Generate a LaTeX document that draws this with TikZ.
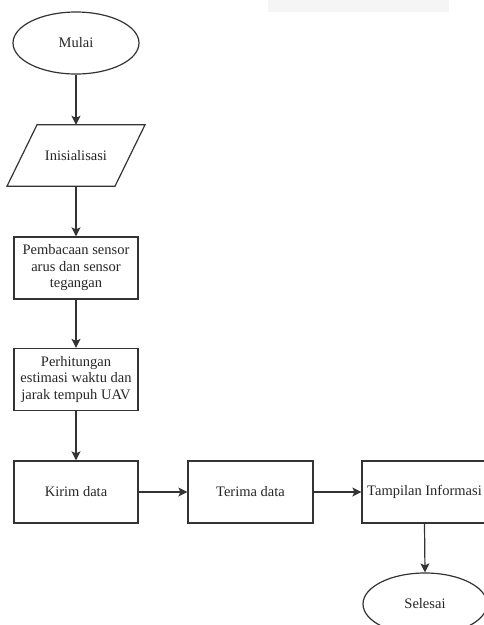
\documentclass[tikz,border=0pt]{standalone}
\usepackage{fontspec}
\setmainfont{Liberation Serif}
\usetikzlibrary{shapes.geometric,arrows.meta,calc}
\begin{document}
\begin{tikzpicture}[x=1pt,y=-1pt,
  every node/.style={font=\fontsize{14.5}{16.5}\selectfont, text=black!85},
  proc/.style={draw=black!80, line width=1.2pt, minimum width=124pt, minimum height=62pt, inner sep=0pt, align=center},
  term/.style={ellipse, draw=black!80, line width=1.2pt, minimum width=126pt, minimum height=62pt, inner sep=0pt},
  conn/.style={line width=1.2pt, draw=black!80, -{Stealth[length=9pt,width=9pt,inset=2pt]}}]
\useasboundingbox (0,0) rectangle (484,625);
\clip (0,0) rectangle (484,625);
\fill[black!4] (268,0) rectangle (449,12);
\node[term] (mulai) at (76,43) {Mulai};
\node[minimum width=108pt, minimum height=61pt, inner sep=0pt] (ini) at (76,155.5) {Inisialisasi};
\draw[draw=black!80, line width=1.2pt] ([xshift=-39pt]ini.north) -- ([xshift=69pt]ini.north) -- ([xshift=39pt]ini.south) -- ([xshift=-69pt]ini.south) -- cycle;
\node[proc] (baca) at (76,268) {Pembacaan sensor\\arus dan sensor\\tegangan};
\node[proc] (hitung) at (76,379.5) {Perhitungan\\estimasi waktu dan\\jarak tempuh UAV};
\node[proc] (kirim) at (76,492) {Kirim data};
\node[proc, minimum width=125pt] (terima) at (250.5,492) {Terima data};
\node[proc, minimum width=125pt] (tampil) at (424.5,492) {Tampilan Informasi};
\node[term, minimum width=124pt] (selesai) at (425,604) {Selesai};
\draw[conn] (mulai.south) -- (ini.north);
\draw[conn] (ini.south) -- (baca.north);
\draw[conn] (baca.south) -- (hitung.north);
\draw[conn] (hitung.south) -- (kirim.north);
\draw[conn] (kirim.east) -- (terima.west);
\draw[conn] (terima.east) -- (tampil.west);
\draw[conn] (tampil.south) -- (selesai.north);
\end{tikzpicture}
\end{document}
